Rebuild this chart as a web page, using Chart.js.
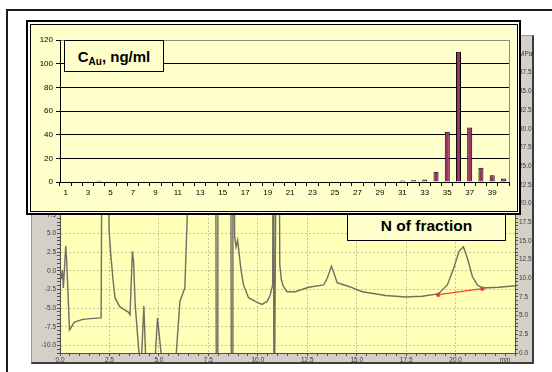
<!DOCTYPE html>
<html>
<head>
<meta charset="utf-8">
<script src="https://cdn.jsdelivr.net/npm/chart.js@4.4.1/dist/chart.umd.min.js"></script>
<style>
  html, body { margin: 0; padding: 0; background: #fff; width: 552px; height: 372px; overflow: hidden; position: relative;
    font-family: "Liberation Sans", Arial, sans-serif; }
  #frame { position: absolute; left: 6px; top: 9px; width: 600px; height: 400px; border: 2px solid #1c1c1c; }
  #chromCanvas { position: absolute; left: 31px; top: 35px; background: #D4D0C8; filter: blur(0.35px); }
  #chromEdge { position: absolute; left: 31px; top: 35px; width: 503px; height: 329px; box-sizing: border-box;
    border-left: 1px solid #9a9890; border-top: 1px solid #9a9890; border-right: 2px solid #3c3c3c; border-bottom: 2px solid #3c3c3c; }
  #barOuter { position: absolute; left: 26px; top: 20px; width: 495px; height: 195px; box-sizing: border-box; border: 2px solid #000; background: #fff; }
  #barInner { position: absolute; left: 30px; top: 24px; width: 488px; height: 188px; box-sizing: border-box; border: 1px solid #000; background: #FFFFCC; }
  #barCanvas { position: absolute; left: 31px; top: 25px; }
  .tag { position: absolute; box-sizing: border-box; background: #FFFFCC; border: 1px solid #000; font-weight: bold;
    font-size: 15px; color: #000; display: flex; align-items: center; justify-content: center; white-space: nowrap; }
  .tag sub { font-size: 10px; vertical-align: -3px; line-height: 0; }
  #unitTag { left: 64px; top: 40px; width: 100px; height: 32px; }
  #axisTag { left: 347px; top: 208px; width: 159px; height: 33px; font-size: 15.5px; border-width: 1.5px; padding-top: 3px; }
</style>
</head>
<body>
<div id="frame"></div>
<canvas id="chromCanvas" width="503" height="329"></canvas>
<div id="chromEdge"></div>
<div id="axisTag" class="tag"><span>N of fraction</span></div>
<div id="barOuter"></div>
<div id="barInner"></div>
<canvas id="barCanvas" width="486" height="186"></canvas>
<div id="unitTag" class="tag"><span>C<sub>Au</sub>, ng/ml</span></div>

<script>
// ---- gold concentration per collected fraction ----
const fractions = ['1','2','3','4','5','6','7','8','9','10','11','12','13','14','15','16','17','18','19','20',
                   '21','22','23','24','25','26','27','28','29','30','31','32','33','34','35','36','37','38','39','40'];
const goldConc = [0.5, 0.5, 0.5, 1.0, 0.5, 0.5, 0.5, 0.5, 0.5, 0,
                  0.5, 0.5, 0.5, 0.5, 0.5, 0.5, 0,   0.5, 0.5, 0.5,
                  0.5, 0.5, 0.5, 0.5, 0.5, 0.5, 0.5, 0.5, 0.5, 0.5,
                  1.2, 1.4, 2.2, 8.6, 42.5, 110, 46, 12, 5.7, 3.0];
const concTicks = [0, 20, 40, 60, 80, 100, 120];

// ---- detector trace (time in min, signal) ----
const chromTime = [0.02, 0.08, 0.12, 0.17, 0.29, 0.34, 0.48, 0.56, 0.71, 0.91, 1.16, 1.52, 2.08,
  2.14, 2.40, 2.48, 2.57, 2.68, 2.78, 3.02, 3.24, 3.44, 3.54, 3.66, 3.72, 3.80,
  4.08, 4.24, 4.36, 4.76, 4.93, 5.22, 5.80, 6.06, 6.31, 6.46, 6.52,
  7.86, 7.90, 7.94, 7.98, 8.62, 8.66, 8.70, 8.74,
  8.83, 8.90, 8.98, 9.08, 9.16, 9.28, 9.53, 9.87, 10.21, 10.47, 10.63, 10.75,
  10.78, 10.81, 10.85, 10.96, 11.06, 11.11, 11.19, 11.29, 11.48, 11.90, 12.57,
  13.33, 13.52, 13.72, 13.82, 14.01, 14.60, 15.28, 16.46, 17.47, 18.31,
  19.12, 19.58, 19.91, 20.17, 20.39, 20.59, 20.85, 21.10, 21.35, 22.19, 23.04];
const chromSignal = [-0.3, -0.8, 0.1, -2.3, 3.3, 1.2, -7.9, -7.6, -6.9, -6.7, -6.5, -6.4, -6.3,
  32, 32, 5.5, 2.1, -1.2, -3.6, -4.8, -5.2, -5.5, -5.9, 2.6, 1.2, -4.5,
  -14, -4.7, -14, -14, -6.3, -14, -14, -4.1, -2.3, 9.5, 32,
  32, -14, -14, 32, 32, -14, -14, 32,
  4.6, 3.2, 4.1, 1.7, -0.1, -1.9, -3.6, -4.1, -4.5, -4.1, -3.2, -1.9,
  32, -14, -14, 32, 32, 0.8, -1.2, -2.1, -2.8, -2.8, -2.2,
  -1.9, -0.9, 0.6, -0.1, -1.6, -2.1, -2.8, -3.3, -3.5, -3.4,
  -3.1, -1.9, 0.4, 2.6, 3.2, 1.7, -0.8, -1.9, -2.3, -2.2, -2.0];
// integration baseline under the late peak
const baseTime = [19.12, 21.35];
const baseSignal = [-3.2, -2.4];

const isMajor = v => Math.abs(v / 2.5 - Math.round(v / 2.5)) < 1e-6;
const smallFont = { family: 'Liberation Sans', size: 6.5 };

// fills the plotting region of the trace panel
const plotFill = {
  id: 'plotFill',
  beforeDraw(chart) {
    const { ctx, chartArea: a } = chart;
    ctx.save();
    ctx.fillStyle = '#FFFFB8';
    ctx.fillRect(a.left, a.top, a.right - a.left, a.bottom - a.top);
    ctx.restore();
  }
};

new Chart(document.getElementById('chromCanvas'), {
  type: 'line',
  data: {
    datasets: [
      {
        data: chromTime.map((t, i) => ({ x: t, y: chromSignal[i] })),
        borderColor: '#6f6f62', borderWidth: 1.4, pointRadius: 0, tension: 0, yAxisID: 'y'
      },
      {
        data: baseTime.map((t, i) => ({ x: t, y: baseSignal[i] })),
        borderColor: '#ff3b30', backgroundColor: '#ff3b30', borderWidth: 1.2, pointRadius: 1.6, yAxisID: 'y'
      }
    ]
  },
  options: {
    responsive: false, animation: false, devicePixelRatio: 1,
    layout: { padding: { top: 19, left: 0, right: 0, bottom: 0 } },
    plugins: { legend: { display: false }, tooltip: { enabled: false } },
    scales: {
      x: {
        type: 'linear', min: 0, max: 23,
        afterFit: s => { s.height = 11; },
        ticks: {
          stepSize: 0.5, autoSkip: false, maxRotation: 0, padding: 0, font: smallFont, color: '#3a3a3a',
          callback: v => (Math.abs(v - 22.5) < 1e-6 ? 'min' : (isMajor(v) ? v.toFixed(1) : ''))
        },
        grid: {
          color: c => (c.tick && isMajor(c.tick.value) && c.tick.value > 0.1 && c.tick.value < 22 ? 'rgba(150,150,120,0.55)' : 'rgba(0,0,0,0)'),
          tickColor: '#505050', tickLength: 3
        },
        border: { color: '#505050', dash: [2, 2] }
      },
      y: {
        position: 'left', min: -11, max: 29,
        afterFit: s => { s.width = 29; },
        ticks: {
          stepSize: 0.5, autoSkip: false, padding: 1, font: smallFont, color: '#3a3a3a',
          callback: v => (isMajor(v) ? v.toFixed(1) : '')
        },
        grid: {
          color: c => (c.tick && isMajor(c.tick.value) && c.tick.value > -10.9 ? 'rgba(150,150,120,0.55)' : 'rgba(0,0,0,0)'),
          tickColor: '#505050', tickLength: 3
        },
        border: { color: '#505050', dash: [2, 2] }
      },
      y2: {
        position: 'right', min: 0, max: 40,
        afterFit: s => { s.width = 19; },
        ticks: {
          stepSize: 0.5, autoSkip: false, padding: 1, font: smallFont, color: '#3a3a3a',
          callback: v => (Math.abs(v - 40) < 1e-6 ? 'MPa' : (isMajor(v) ? v.toFixed(1) : ''))
        },
        grid: { drawOnChartArea: false, tickColor: '#505050', tickLength: 3 },
        border: { color: '#505050' }
      }
    }
  },
  plugins: [plotFill]
});

// gray right-hand edge of the bar plot area
const plotEdge = {
  id: 'plotEdge',
  beforeDatasetsDraw(chart) {
    const { ctx, chartArea: a } = chart;
    ctx.save();
    ctx.strokeStyle = '#8c8c8c';
    ctx.lineWidth = 1;
    ctx.beginPath();
    ctx.moveTo(Math.round(a.right) + 0.5, a.top);
    ctx.lineTo(Math.round(a.right) + 0.5, a.bottom);
    ctx.stroke();
    ctx.restore();
  }
};

const barFont = { family: 'Liberation Sans', size: 8 };

new Chart(document.getElementById('barCanvas'), {
  type: 'bar',
  data: {
    labels: fractions,
    datasets: [{
      data: goldConc,
      backgroundColor: '#993366', borderColor: '#000', borderWidth: 1,
      barPercentage: 0.45, categoryPercentage: 1
    }]
  },
  options: {
    responsive: false, animation: false, devicePixelRatio: 1,
    layout: { padding: { top: 15, right: 8, left: 0, bottom: 0 } },
    plugins: { legend: { display: false }, tooltip: { enabled: false } },
    scales: {
      x: {
        afterFit: s => { s.height = 29; },
        ticks: {
          autoSkip: false, maxRotation: 0, padding: 2, font: barFont, color: '#000',
          callback: (v, i) => (i % 2 === 0 ? fractions[i] : '')
        },
        grid: { offset: true, drawOnChartArea: false, color: '#000', tickLength: 4 },
        border: { color: '#000' }
      },
      y: {
        min: 0, max: 120,
        afterFit: s => { s.width = 29; },
        afterBuildTicks: s => { s.ticks = concTicks.map(v => ({ value: v })); },
        ticks: { padding: 3, font: barFont, color: '#000' },
        grid: {
          color: c => (c.tick && c.tick.value === 120 ? '#8c8c8c' : '#000'),
          tickColor: '#000', tickLength: 4
        },
        border: { color: '#000' }
      }
    }
  },
  plugins: [plotEdge]
});
</script>
</body>
</html>
